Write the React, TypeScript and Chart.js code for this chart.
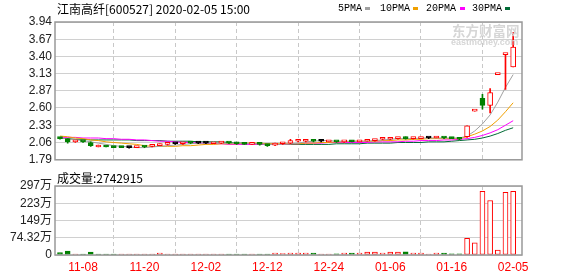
import React, { useEffect, useRef } from 'react';
import { Chart, registerables } from 'chart.js';

Chart.register(...registerables);

// ---------------- data ----------------
const stockTitle = '江南高纤[600527] 2020-02-05 15:00';
const volumeTitle = '成交量:2742915';

const dates = [
  '11-05','11-06','11-07','11-08','11-11','11-12','11-13','11-14','11-15','11-18',
  '11-19','11-20','11-21','11-22','11-25','11-26','11-27','11-28','11-29','12-02',
  '12-03','12-04','12-05','12-06','12-09','12-10','12-11','12-12','12-13','12-16',
  '12-17','12-18','12-19','12-20','12-23','12-24','12-25','12-26','12-27','12-30',
  '12-31','01-02','01-03','01-06','01-07','01-08','01-09','01-10','01-13','01-14',
  '01-15','01-16','01-17','01-20','01-21','01-22','01-23','02-03','02-04','02-05',
];
const dateTickIndex = [3, 11, 19, 27, 35, 43, 51, 59];

const prevCloseStart = 2.14;
const openP = [
  2.13, 2.12, 2.07, 2.08, 2.06, 1.99, 2.00, 2.00, 1.99, 1.98,
  1.98, 2.00, 2.00, 2.01, 2.03, 2.04, 2.04, 2.06, 2.05, 2.05,
  2.04, 2.05, 2.06, 2.05, 2.04, 2.03, 2.04, 2.02, 2.02, 2.04,
  2.05, 2.08, 2.08, 2.10, 2.08, 2.07, 2.08, 2.07, 2.08, 2.07,
  2.08, 2.09, 2.11, 2.11, 2.12, 2.14, 2.12, 2.12, 2.13, 2.13,
  2.14, 2.13, 2.12, 2.15, 2.55, 2.75, 2.64, 3.12, 3.43, 3.24,
];
const highP = [
  2.14, 2.12, 2.09, 2.08, 2.07, 2.02, 2.01, 2.00, 2.00, 1.99,
  2.00, 2.00, 2.02, 2.04, 2.05, 2.05, 2.06, 2.06, 2.06, 2.06,
  2.06, 2.07, 2.06, 2.06, 2.05, 2.05, 2.04, 2.03, 2.05, 2.06,
  2.11, 2.10, 2.11, 2.11, 2.09, 2.09, 2.08, 2.08, 2.09, 2.09,
  2.10, 2.11, 2.13, 2.13, 2.14, 2.15, 2.14, 2.14, 2.14, 2.15,
  2.14, 2.14, 2.13, 2.32, 2.55, 2.81, 2.90, 3.12, 3.43, 3.78,
];
const lowP = [
  2.11, 2.05, 2.06, 2.06, 2.00, 1.99, 1.99, 1.98, 1.98, 1.97,
  1.98, 1.98, 1.99, 2.01, 2.02, 2.03, 2.03, 2.04, 2.04, 2.04,
  2.04, 2.04, 2.04, 2.03, 2.03, 2.03, 2.02, 2.00, 2.01, 2.03,
  2.04, 2.07, 2.07, 2.07, 2.07, 2.07, 2.06, 2.06, 2.07, 2.07,
  2.08, 2.08, 2.10, 2.10, 2.11, 2.11, 2.11, 2.12, 2.12, 2.13,
  2.12, 2.12, 2.10, 2.14, 2.55, 2.58, 2.52, 3.12, 2.89, 3.24,
];
const closeP = [
  2.12, 2.07, 2.08, 2.07, 2.01, 2.00, 1.99, 1.98, 1.98, 1.98,
  1.99, 1.99, 2.01, 2.03, 2.04, 2.04, 2.05, 2.05, 2.05, 2.05,
  2.06, 2.06, 2.05, 2.04, 2.03, 2.04, 2.03, 2.01, 2.04, 2.05,
  2.09, 2.09, 2.10, 2.08, 2.08, 2.08, 2.07, 2.08, 2.07, 2.09,
  2.09, 2.11, 2.12, 2.12, 2.13, 2.12, 2.13, 2.13, 2.13, 2.14,
  2.13, 2.12, 2.11, 2.32, 2.55, 2.64, 2.84, 3.12, 3.43, 3.55,
];
// volume in 万 shares
const volumeWan = [
  10, 17, 4, 4, 13, 4, 4, 4, 4, 4,
  4, 4, 4, 8, 4, 4, 4, 4, 4, 4,
  4, 4, 4, 4, 4, 4, 4, 4, 8, 6,
  8, 8, 8, 8, 4, 4, 5, 8, 8, 8,
  13, 13, 8, 13, 13, 14, 8, 8, 4, 8,
  8, 5, 5, 72, 52, 274, 235, 21, 270, 274.2915,
];
const ma5 = [
  2.13, 2.12, 2.10, 2.09, 2.07, 2.05, 2.03, 2.01, 2.00, 1.99,
  1.98, 1.98, 1.99, 2.00, 2.01, 2.02, 2.03, 2.04, 2.05, 2.05,
  2.05, 2.05, 2.05, 2.05, 2.05, 2.04, 2.04, 2.03, 2.03, 2.03,
  2.04, 2.05, 2.07, 2.08, 2.09, 2.09, 2.08, 2.08, 2.08, 2.08,
  2.08, 2.09, 2.10, 2.11, 2.12, 2.12, 2.12, 2.13, 2.13, 2.13,
  2.13, 2.13, 2.13, 2.16, 2.24, 2.35, 2.49, 2.69, 2.92, 3.12,
];
const ma10 = [
  2.16, 2.15, 2.13, 2.12, 2.10, 2.09, 2.07, 2.06, 2.05, 2.04,
  2.03, 2.01, 2.00, 2.00, 2.00, 2.00, 2.01, 2.01, 2.02, 2.03,
  2.03, 2.04, 2.04, 2.04, 2.05, 2.05, 2.05, 2.04, 2.04, 2.04,
  2.04, 2.04, 2.05, 2.05, 2.06, 2.06, 2.07, 2.07, 2.08, 2.08,
  2.08, 2.08, 2.09, 2.09, 2.10, 2.10, 2.11, 2.11, 2.12, 2.12,
  2.12, 2.12, 2.12, 2.15, 2.19, 2.24, 2.31, 2.41, 2.54, 2.68,
];
const ma20 = [
  2.14, 2.14, 2.14, 2.13, 2.13, 2.13, 2.12, 2.12, 2.11, 2.11,
  2.10, 2.10, 2.09, 2.08, 2.08, 2.07, 2.06, 2.06, 2.05, 2.05,
  2.04, 2.04, 2.03, 2.03, 2.03, 2.03, 2.03, 2.03, 2.03, 2.03,
  2.04, 2.04, 2.05, 2.05, 2.05, 2.06, 2.06, 2.06, 2.06, 2.06,
  2.06, 2.07, 2.07, 2.07, 2.07, 2.08, 2.08, 2.09, 2.09, 2.09,
  2.10, 2.10, 2.11, 2.12, 2.14, 2.17, 2.21, 2.26, 2.33, 2.40,
];
const ma30 = [
  2.13, 2.12, 2.11, 2.11, 2.10, 2.10, 2.10, 2.10, 2.10, 2.10,
  2.09, 2.09, 2.09, 2.09, 2.08, 2.08, 2.08, 2.08, 2.07, 2.07,
  2.07, 2.07, 2.06, 2.05, 2.05, 2.04, 2.04, 2.04, 2.03, 2.03,
  2.03, 2.03, 2.03, 2.03, 2.03, 2.03, 2.04, 2.04, 2.04, 2.04,
  2.05, 2.05, 2.05, 2.05, 2.06, 2.06, 2.06, 2.06, 2.07, 2.07,
  2.07, 2.08, 2.09, 2.10, 2.11, 2.13, 2.16, 2.20, 2.25, 2.29,
];
const maLabels = ['5PMA', '10PMA', '20PMA', '30PMA'];

const priceTicks = [1.79, 2.06, 2.33, 2.60, 2.87, 3.13, 3.40, 3.67, 3.94];
const volTicks = [0, 74.32, 148.64, 222.96, 297.28];
const volTickLabels = ['0', '74.32万', '149万', '223万', '297万'];

// ---------------- styles ----------------
const RED = '#ff0000';
const GREEN = '#008000';
const BLACK = '#000000';
const maColors = ['#a0a0a0', '#f0a000', '#ff00ff', '#006b36'];
const X_MIN = -0.65;
const X_MAX = 60.15;
const labelFont = { family: '"Liberation Sans", Arial, "Noto Sans CJK SC", sans-serif', size: 12 };

function prevClose(i: number) {
  return i === 0 ? prevCloseStart : closeP[i - 1];
}
function candleColor(i: number) {
  const o = openP[i], c = closeP[i];
  if (c > o) return RED;
  if (c < o) return GREEN;
  const pc = prevClose(i);
  if (c > pc) return RED;
  if (c < pc) return GREEN;
  return BLACK;
}
function volColor(i: number) {
  return closeP[i] >= prevClose(i) ? RED : GREEN;
}

const framePlugin = {
  id: 'frame',
  afterDatasetsDraw(chart: any) {
    const { ctx, chartArea: a } = chart;
    ctx.save();
    ctx.strokeStyle = '#999999';
    ctx.lineWidth = 1.5;
    ctx.strokeRect(a.left, a.top, a.right - a.left, a.bottom - a.top);
    ctx.restore();
  },
};

function xScale(showLabels: boolean, height: number) {
  return {
    type: 'linear',
    min: X_MIN,
    max: X_MAX,
    offset: false,
    afterBuildTicks: (s: any) => {
      s.ticks = dateTickIndex.map((v) => ({ value: v }));
    },
    afterFit: (s: any) => {
      s.height = height;
    },
    ticks: {
      display: showLabels,
      autoSkip: false,
      maxRotation: 0,
      padding: 5,
      color: RED,
      font: labelFont,
      callback: (v: any) => dates[Number(v)],
    },
    grid: { color: '#c8c8c8', lineWidth: 1, drawTicks: false },
    border: { display: false, dash: [4, 3] },
  };
}

function priceConfig(): any {
  const idx = dates.map((_, i) => i);
  const colors = idx.map(candleColor);
  const bodies = idx.map((i) => ({
    x: i,
    y: [Math.min(openP[i], closeP[i]), Math.max(openP[i], closeP[i])],
  }));
  const wicks = idx.map((i) => ({ x: i, y: [lowP[i], highP[i]] }));
  const maSeries = [ma5, ma10, ma20, ma30];
  return {
    type: 'bar',
    data: {
      datasets: [
        {
          type: 'bar',
          data: bodies,
          backgroundColor: colors.map((c) => (c === RED ? '#ffffff' : c)),
          borderColor: colors,
          borderWidth: 1,
          borderSkipped: false,
          barThickness: 5,
          minBarLength: 2,
          grouped: false,
          order: 0,
        },
        {
          type: 'bar',
          data: wicks,
          backgroundColor: colors,
          borderWidth: 0,
          barThickness: 1,
          grouped: false,
          order: 1,
        },
        ...maSeries.map((s, k) => ({
          type: 'line',
          data: s.map((v, i) => ({ x: i, y: v })),
          borderColor: maColors[k],
          borderWidth: 1,
          pointRadius: 0,
          tension: 0,
          fill: false,
          order: 2 + k,
        })),
      ],
    },
    options: {
      responsive: false,
      animation: false,
      devicePixelRatio: 1,
      layout: { padding: { top: 22, right: 56, bottom: 5, left: 0 } },
      plugins: { legend: { display: false }, tooltip: { enabled: false } },
      scales: {
        x: xScale(false, 0),
        y: {
          type: 'linear',
          min: priceTicks[0],
          max: priceTicks[priceTicks.length - 1],
          afterBuildTicks: (s: any) => {
            s.ticks = priceTicks.map((v) => ({ value: v }));
          },
          afterFit: (s: any) => {
            s.width = 55;
          },
          ticks: {
            autoSkip: false,
            padding: 3,
            color: '#222222',
            font: labelFont,
            callback: (v: any) => Number(v).toFixed(2),
          },
          grid: { color: '#d0d0d0', lineWidth: 1, drawTicks: false },
          border: { display: false },
        },
      },
    },
    plugins: [framePlugin],
  };
}

function volConfig(): any {
  const idx = dates.map((_, i) => i);
  const colors = idx.map(volColor);
  return {
    type: 'bar',
    data: {
      datasets: [
        {
          type: 'bar',
          data: idx.map((i) => ({ x: i, y: volumeWan[i] })),
          backgroundColor: colors.map((c) => (c === RED ? '#ffffff' : c)),
          borderColor: colors,
          borderWidth: 1,
          borderSkipped: false,
          barThickness: 5,
          minBarLength: 1,
          grouped: false,
        },
      ],
    },
    options: {
      responsive: false,
      animation: false,
      devicePixelRatio: 1,
      layout: { padding: { top: 16, right: 56, bottom: 0, left: 0 } },
      plugins: { legend: { display: false }, tooltip: { enabled: false } },
      scales: {
        x: xScale(true, 21),
        y: {
          type: 'linear',
          min: volTicks[0],
          max: volTicks[volTicks.length - 1],
          afterBuildTicks: (s: any) => {
            s.ticks = volTicks.map((v) => ({ value: v }));
          },
          afterFit: (s: any) => {
            s.width = 55;
          },
          ticks: {
            autoSkip: false,
            padding: 3,
            color: '#222222',
            font: labelFont,
            callback: (_v: any, i: number) => volTickLabels[i],
          },
          grid: { color: '#d0d0d0', lineWidth: 1, drawTicks: false },
          border: { display: false },
        },
      },
    },
    plugins: [framePlugin],
  };
}

const legendTextX = [338, 380, 426, 472];
const legendSwatchX = [365, 413, 460, 505];

export default function App() {
  const priceRef = useRef<HTMLCanvasElement>(null);
  const volRef = useRef<HTMLCanvasElement>(null);

  useEffect(() => {
    const pc = new Chart(priceRef.current as HTMLCanvasElement, priceConfig());
    const vc = new Chart(volRef.current as HTMLCanvasElement, volConfig());
    return () => {
      pc.destroy();
      vc.destroy();
    };
  }, []);

  const cjk = '"Noto Sans CJK SC", "Liberation Sans", sans-serif';

  return (
    <div
      style={{
        position: 'fixed',
        left: 0,
        top: 0,
        width: 578,
        height: 276,
        background: '#ffffff',
        overflow: 'hidden',
      }}
    >
      <canvas ref={priceRef} width={578} height={170} style={{ position: 'absolute', left: 0, top: 0 }} />
      <canvas ref={volRef} width={578} height={106} style={{ position: 'absolute', left: 0, top: 170 }} />

      <div
        style={{
          position: 'absolute',
          left: 452,
          top: 22,
          fontFamily: cjk,
          fontWeight: 'bold',
          fontSize: 13.5,
          lineHeight: '16px',
          color: '#d6d6d6',
          whiteSpace: 'nowrap',
        }}
      >
        东方财富网
      </div>
      <div
        style={{
          position: 'absolute',
          left: 451,
          top: 37,
          fontFamily: '"Liberation Sans", Arial, sans-serif',
          fontWeight: 'bold',
          fontSize: 9,
          lineHeight: '10px',
          color: '#d6d6d6',
          whiteSpace: 'nowrap',
        }}
      >
        eastmoney.com
      </div>

      <div
        style={{
          position: 'absolute',
          left: 57,
          top: 3,
          fontFamily: cjk,
          fontSize: 12,
          lineHeight: '12px',
          color: '#000000',
          whiteSpace: 'nowrap',
        }}
      >
        {stockTitle}
      </div>

      {maLabels.map((t, k) => (
        <React.Fragment key={t}>
          <div
            style={{
              position: 'absolute',
              left: legendTextX[k],
              top: 3,
              fontFamily: '"Liberation Mono", "DejaVu Sans Mono", monospace',
              fontSize: 10,
              lineHeight: '12px',
              color: '#000000',
              whiteSpace: 'nowrap',
            }}
          >
            {t}
          </div>
          <div
            style={{
              position: 'absolute',
              left: legendSwatchX[k],
              top: 7,
              width: 5,
              height: 3,
              background: maColors[k],
            }}
          />
        </React.Fragment>
      ))}

      <div
        style={{
          position: 'absolute',
          left: 57,
          top: 172,
          fontFamily: cjk,
          fontSize: 12,
          lineHeight: '12px',
          color: '#000000',
          whiteSpace: 'nowrap',
        }}
      >
        {volumeTitle}
      </div>
    </div>
  );
}
